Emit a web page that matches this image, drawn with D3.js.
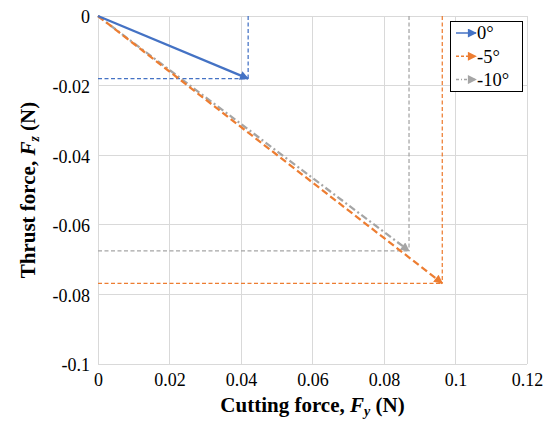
<!DOCTYPE html>
<html><head><meta charset="utf-8">
<script src="https://cdn.jsdelivr.net/npm/d3@7"></script>
<style>body{margin:0;background:#fff}svg{display:block}svg text{font-family:"Liberation Serif","Times New Roman",serif !important}</style>
</head><body>
<script>
const seriesNames = ["0°", "-5°", "-10°"];
const seriesFy = [0.042, 0.0963, 0.087];
const seriesFz = [-0.018, -0.0768, -0.0675];
const colors = ["#4472C4", "#ED7D31", "#A5A5A5"];
const dashes = [null, "7,3.5", "7,3,2,3"];
const xTicks = [0, 0.02, 0.04, 0.06, 0.08, 0.1, 0.12];
const yTicks = [0, -0.02, -0.04, -0.06, -0.08, -0.1];

const W = 550, H = 427;
const m = {l: 98, r: 527, t: 16, b: 364};
const svg = d3.select("body").append("svg").attr("width", W).attr("height", H);
const x = d3.scaleLinear().domain([0, 0.12]).range([m.l, m.r]);
const y = d3.scaleLinear().domain([0, -0.1]).range([m.t, m.b]);

// arrow markers
const defs = svg.append("defs");
colors.forEach((c, i) => {
  defs.append("marker").attr("id", "arr" + i)
    .attr("viewBox", "0 0 10 10").attr("refX", 9).attr("refY", 5)
    .attr("markerUnits", "userSpaceOnUse")
    .attr("markerWidth", 10).attr("markerHeight", 9).attr("orient", "auto")
    .append("path").attr("d", "M0,0 L10,5 L0,10 Z").attr("fill", c);
});

// gridlines
const g = svg.append("g");
g.selectAll(".vx").data(xTicks).join("line")
  .attr("x1", d => x(d)).attr("x2", d => x(d)).attr("y1", m.t).attr("y2", m.b)
  .attr("stroke", "#d9d9d9").attr("stroke-width", 1).attr("shape-rendering", "crispEdges");
g.selectAll(".hy").data(yTicks).join("line")
  .attr("x1", m.l).attr("x2", m.r).attr("y1", d => y(d)).attr("y2", d => y(d))
  .attr("stroke", "#d9d9d9").attr("stroke-width", 1).attr("shape-rendering", "crispEdges");

// axes with tick labels (no lines)
const xAxis = d3.axisBottom(x).tickValues(xTicks).tickSize(0).tickPadding(9)
  .tickFormat(d => String(+d.toFixed(2)));
const ax = svg.append("g").attr("transform", `translate(0,${m.b})`).call(xAxis);
const yAxis = d3.axisLeft(y).tickValues(yTicks).tickSize(0).tickPadding(8)
  .tickFormat(d => d === 0 ? "0" : String(+d.toFixed(2)));
const ay = svg.append("g").attr("transform", `translate(${m.l},0)`).call(yAxis);
[ax, ay].forEach(a => {
  a.attr("font-family", null).attr("font-size", null);
  a.select(".domain").remove();
  a.selectAll("text").style("font-size", "18px").attr("fill", "#000");
});
ay.selectAll("text").attr("dy", "0.38em");

// projection lines
const data = seriesNames.map((n, i) => ({n, fy: seriesFy[i], fz: seriesFz[i], c: colors[i], d: dashes[i], i}));
const proj = svg.append("g");
data.forEach(d => {
  proj.append("line").attr("x1", x(d.fy)).attr("x2", x(d.fy)).attr("y1", y(0)).attr("y2", y(d.fz))
    .attr("stroke", d.c).attr("stroke-width", 1.25).attr("stroke-dasharray", "4,2.5");
  proj.append("line").attr("x1", x(0)).attr("x2", x(d.fy)).attr("y1", y(d.fz)).attr("y2", y(d.fz))
    .attr("stroke", d.c).attr("stroke-width", 1.25).attr("stroke-dasharray", "4,2.5");
});

// series arrows
const lines = svg.append("g");
[2, 1, 0].forEach(i => {
  const d = data[i];
  lines.append("line").attr("x1", x(0)).attr("y1", y(0)).attr("x2", x(d.fy)).attr("y2", y(d.fz))
    .attr("stroke", d.c).attr("stroke-width", 2.25)
    .attr("stroke-dasharray", d.d)
    .attr("marker-end", `url(#arr${i})`);
});

// legend
const lg = svg.append("g");
lg.append("rect").attr("x", 450.5).attr("y", 21.5).attr("width", 72).attr("height", 70)
  .attr("fill", "#fff").attr("stroke", "#000").attr("stroke-width", 1);
data.forEach((d, k) => {
  const cy = 33 + k * 23.3;
  lg.append("line").attr("x1", 456).attr("x2", 476).attr("y1", cy).attr("y2", cy)
    .attr("stroke", d.c).attr("stroke-width", 1.5).attr("stroke-dasharray", d.d ? (d.i === 1 ? "3,2" : "3,2,1,2") : null)
    .attr("marker-end", `url(#arr${d.i})`);
  lg.append("text").attr("x", 477).attr("y", cy).attr("dy", "0.35em")
    .style("font-size", "18.5px").text(d.n);
});

// axis titles
const xt = svg.append("text").attr("x", (m.l + m.r) / 2).attr("y", 412)
  .attr("text-anchor", "middle").style("font-size", "21px").attr("font-weight", "bold");
xt.append("tspan").text("Cutting force, ");
xt.append("tspan").attr("font-style", "italic").text("F");
xt.append("tspan").attr("font-style", "italic").style("font-size", "14px").attr("dy", 4).text("y");
xt.append("tspan").attr("dy", -4).text(" (N)");

const yt = svg.append("text").attr("transform", `translate(35,${(m.t + m.b) / 2}) rotate(-90)`)
  .attr("text-anchor", "middle").style("font-size", "21px").attr("font-weight", "bold");
yt.append("tspan").text("Thrust force, ");
yt.append("tspan").attr("font-style", "italic").text("F");
yt.append("tspan").attr("font-style", "italic").style("font-size", "14px").attr("dy", 4).text("z");
yt.append("tspan").attr("dy", -4).text(" (N)");
</script>
</body></html>
